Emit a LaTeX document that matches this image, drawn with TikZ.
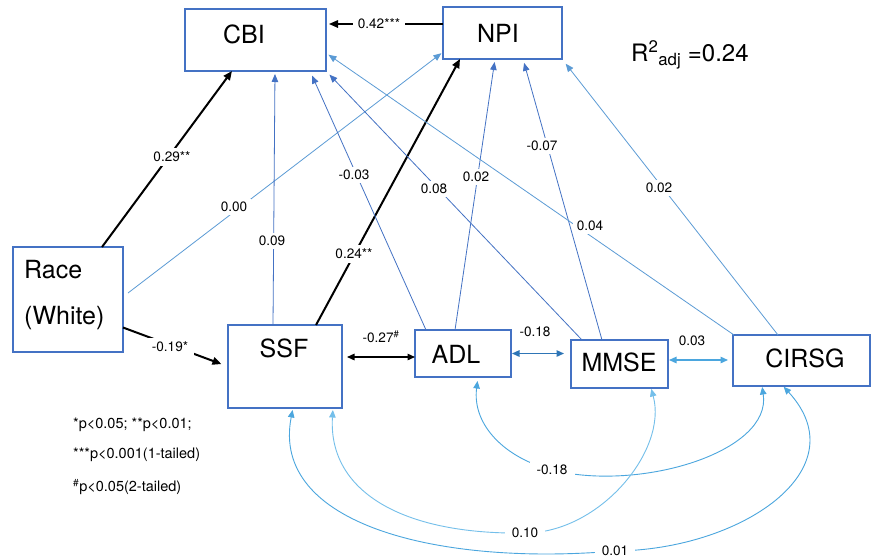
\documentclass[tikz,border=0pt]{standalone}
\usepackage{fontspec}
\setmainfont{TeX Gyre Heros}
\usetikzlibrary{arrows.meta}
\definecolor{boxblue}{HTML}{4472C4}
\definecolor{lineblue}{HTML}{4472C4}
\definecolor{liteblue}{HTML}{5B9BD5}
\definecolor{curveblue}{HTML}{4BA6DE}
\definecolor{paleblue}{HTML}{74BFEA}
\definecolor{darkblue}{HTML}{2E75B6}
\begin{document}
\begin{tikzpicture}[x=1pt,y=-1pt,
  box/.style={draw=boxblue, line width=1.4pt, rectangle, inner sep=0pt, outer sep=0pt},
  big/.style={font=\fontsize{25}{46}\selectfont, inner sep=0pt},
  lbl/.style={font=\fontsize{13.6}{16}\selectfont, fill=white, inner sep=3.5pt},
  clbl/.style={font=\fontsize{13.6}{16}\selectfont, fill=white, inner xsep=7pt, inner ysep=3pt},
  leg/.style={font=\fontsize{14.5}{17}\selectfont, inner sep=0pt, anchor=west},
  eff/.style={draw=lineblue, line width=0.8pt, -{Triangle[length=8pt,width=6.5pt]}},
  sig/.style={draw=black, line width=2pt, -{Triangle[length=9pt,width=7.5pt]}},
  dbl/.style={line width=1.3pt, {Triangle[length=7.5pt,width=6.5pt]}-{Triangle[length=7.5pt,width=6.5pt]}},
  corr/.style={line width=0.9pt, {Triangle[length=7.5pt,width=6.5pt]}-{Triangle[length=7.5pt,width=6.5pt]}}
]
\fill[white] (0,0) rectangle (878,558);
\useasboundingbox (0,0) rectangle (878,558);

% boxes
\node[box, minimum width=141pt, minimum height=62pt] (cbi) at (255.5,40) {};
\node[box, minimum width=119pt, minimum height=52pt] (npi) at (502.5,33) {};
\node[box, minimum width=110pt, minimum height=105pt] (race) at (68,299.5) {};
\node[box, minimum width=114pt, minimum height=83pt] (ssf) at (285,366.5) {};
\node[box, minimum width=96pt, minimum height=47pt] (adl) at (463,353.5) {};
\node[box, minimum width=97pt, minimum height=48pt] (mmse) at (619.5,364) {};
\node[box, minimum width=137pt, minimum height=51pt] (cirsg) at (801.5,360.5) {};

% effects
\draw[sig] ([xshift=89]race.north west) -- ([xshift=47]cbi.south west);
\draw[eff, draw=liteblue, shorten >=2pt] ([xshift=5,yshift=6.5]race.east) -- ([yshift=7]npi.south west);
\draw[sig, shorten >=7pt] ([yshift=-28]race.east) -- (ssf.west);
\draw[eff, shorten >=3pt] ([xshift=45]ssf.north west) -- ([xshift=90]cbi.south west);
\draw[sig] ([xshift=88]ssf.north west) -- ([xshift=17]npi.south west);
\draw[eff, shorten >=5pt] ([xshift=11]adl.north west) -- ([xshift=125]cbi.south west);
\draw[eff, shorten >=3pt] ([xshift=40]adl.north west) -- ([xshift=52]npi.south west);
\draw[eff, shorten >=5pt] ([xshift=11]mmse.north west) -- (cbi.south east);
\draw[eff, shorten >=4pt] ([xshift=31]mmse.north west) -- ([xshift=80]npi.south west);
\draw[eff, draw=liteblue, shorten >=3pt] ([xshift=1]cirsg.north west) -- ([yshift=-13]cbi.east);
\draw[eff, draw=liteblue, shorten >=6pt] ([xshift=45]cirsg.north west) -- (npi.south east);
\draw[sig, line width=1.5pt, shorten >=3pt] ([yshift=9]npi.west) -- ([yshift=9]npi.west -| cbi.east);

% correlations
\draw[dbl, draw=black, shorten <=5pt] ([yshift=9.5]ssf.east) -- ([yshift=9.5]ssf.east -| adl.west);
\draw[dbl, draw=darkblue, shorten <=1pt, shorten >=7pt] (adl.east) -- (adl.east -| mmse.west);
\draw[dbl, draw=curveblue, shorten <=1pt, shorten >=5pt] ([yshift=4]mmse.east) -- ([yshift=4]mmse.east -| cirsg.west);

\coordinate (c18) at (552,470);
\coordinate (c10) at (525,533);
\coordinate (c01) at (615,551);
\draw[corr, draw=curveblue, shorten <=4pt, shorten >=1pt] ([xshift=63]adl.south west) .. controls (472,425) and (505,458) .. (c18) .. controls (640,492) and (772,452) .. ([xshift=29]cirsg.south west);
\draw[corr, draw=paleblue, shorten <=2pt, shorten >=1pt] ([xshift=105]ssf.south west) .. controls (328,490) and (400,535) .. (c10) .. controls (600,533) and (668,450) .. ([xshift=80]mmse.south west);
\draw[corr, draw=curveblue, shorten <=2pt, shorten >=1pt] ([xshift=65]ssf.south west) .. controls (270,525) and (440,566) .. (c01) .. controls (740,550) and (860,470) .. ([xshift=50]cirsg.south west);

% labels
\node[lbl] (l029) at (172,157) {0.29**};
\node[lbl, inner xsep=5pt] (l042) at (379,24) {0.42***};
\node[lbl] (l000) at (234,207) {0.00};
\node[lbl] (l009) at (272,241) {0.09};
\node[lbl] (l003) at (354,175) {-0.03};
\node[lbl] (l024) at (354,254) {0.24**};
\node[lbl] (l008) at (434,189) {0.08};
\node[lbl] (l002a) at (476,177) {0.02};
\node[lbl] (l007) at (542,146) {-0.07};
\node[lbl] (l004) at (590,226) {0.04};
\node[lbl] (l002b) at (659,188) {0.02};
\node[lbl, inner xsep=6pt] (l019) at (170,347) {-0.19*};
\node[lbl] (l027) at (381,337) {-0.27\textsuperscript{\#}};
\node[lbl] (l018a) at (535,332) {-0.18};
\node[lbl] (l003b) at (692,341) {0.03};
\node[clbl] (l018b) at (c18) {-0.18};
\node[clbl] (l010) at (c10) {0.10};
\node[clbl] (l001) at (c01) {0.01};

% box texts
\node[big] (cbit) at (244,34) {CBI};
\node[big] (npit) at (498,33) {NPI};
\node[big, align=left, anchor=west] (racet) at (24,295) {Race\\(White)};
\node[big] (ssft) at (284,348) {SSF};
\node[big] (adlt) at (456,354) {ADL};
\node[big] (mmset) at (619,362) {MMSE};
\node[big] (cirsgt) at (805,358) {CIRSG};

% R squared
\node[font=\fontsize{24}{28}\selectfont, anchor=west, inner sep=0pt] (r2) at (631,55) {R\textsuperscript{2}\textsubscript{adj} =0.24};

% legend
\node[leg] (leg1) at (73,425) {*p<0.05; **p<0.01;};
\node[leg] (leg2) at (73,455) {***p<0.001(1-tailed)};
\node[leg] (leg3) at (73,487) {\textsuperscript{\#}p<0.05(2-tailed)};
\end{tikzpicture}
\end{document}
